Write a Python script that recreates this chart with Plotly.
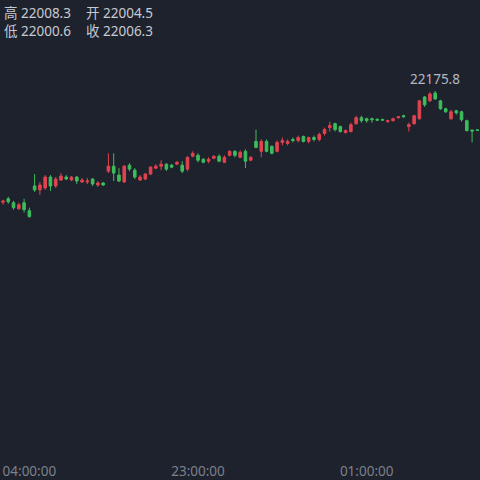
import plotly.graph_objects as go

# 4-minute candles
opens = [22004.5, 22009.8, 22003.7, 21994.5, 22003.7, 21991.5, 22029.6, 22023.5, 22026.5, 22043.3,
         22029.6, 22038.7, 22043.3, 22038.7, 22043.3, 22035.7, 22035.7, 22040.2, 22031.1, 22034.1,
         22052.4, 22060.0, 22046.3, 22035.7, 22061.6, 22053.9, 22038.7, 22040.2, 22047.9, 22057.0,
         22060.0, 22063.1, 22061.6, 22063.1, 22061.6, 22055.5, 22075.3, 22076.8, 22070.7, 22067.7,
         22072.2, 22075.3, 22066.1, 22076.8, 22082.9, 22073.7, 22082.9, 22069.2, 22098.1, 22082.9,
         22098.1, 22090.5, 22082.9, 22096.6, 22095.1, 22101.2, 22099.6, 22105.7, 22098.1, 22104.2,
         22101.2, 22110.3, 22119.4, 22125.5, 22121.0, 22111.8, 22113.3, 22125.5, 22134.7, 22133.1,
         22133.1, 22132.4, 22132.0, 22128.6, 22130.1, 22134.7, 22137.7, 22121.0, 22125.5, 22133.1,
         22166.6, 22160.6, 22172.7, 22160.6, 22148.4, 22133.1, 22145.3, 22143.8, 22130.1, 22115.6,
         22115.9]
highs = [22008.3, 22012.8, 22006.7, 22003.7, 22009.8, 21996.1, 22047.9, 22035.7, 22046.3, 22046.3,
         22043.3, 22049.4, 22046.3, 22044.8, 22044.8, 22041.8, 22041.8, 22041.8, 22037.2, 22035.7,
         22079.8, 22079.8, 22057.0, 22061.6, 22064.6, 22057.0, 22046.3, 22049.4, 22060.0, 22063.1,
         22069.2, 22064.6, 22063.1, 22067.7, 22067.7, 22075.3, 22082.9, 22079.8, 22072.2, 22073.7,
         22076.8, 22078.3, 22076.8, 22084.4, 22084.4, 22084.4, 22085.9, 22075.3, 22116.4, 22101.2,
         22101.2, 22092.0, 22099.6, 22104.2, 22101.2, 22104.2, 22107.2, 22107.2, 22105.7, 22107.2,
         22111.8, 22119.4, 22128.6, 22127.0, 22122.5, 22116.4, 22127.0, 22137.7, 22137.7, 22134.7,
         22134.7, 22133.1, 22133.1, 22131.6, 22134.7, 22136.9, 22139.2, 22127.0, 22139.2, 22162.1,
         22168.2, 22174.3, 22175.8, 22162.1, 22149.9, 22146.8, 22146.8, 22145.3, 22131.6, 22116.4,
         22116.4]
lows = [22000.6, 22002.2, 21993.0, 21993.0, 21988.5, 21980.8, 22020.4, 22015.9, 22023.5, 22022.0,
        22026.5, 22037.2, 22038.7, 22037.2, 22032.6, 22034.1, 22032.6, 22029.6, 22028.1, 22029.6,
        22049.4, 22037.2, 22035.7, 22034.1, 22052.4, 22040.2, 22037.2, 22038.7, 22046.3, 22055.5,
        22053.9, 22052.4, 22057.0, 22061.6, 22049.4, 22052.4, 22073.7, 22066.1, 22064.6, 22064.6,
        22070.7, 22066.1, 22064.6, 22075.3, 22073.7, 22072.2, 22057.0, 22067.7, 22087.4, 22073.7,
        22081.4, 22078.3, 22081.4, 22092.0, 22092.0, 22096.6, 22096.6, 22096.6, 22095.1, 22098.1,
        22098.1, 22107.2, 22113.3, 22113.3, 22111.8, 22110.3, 22111.8, 22124.0, 22127.0, 22127.0,
        22127.0, 22130.1, 22130.1, 22127.0, 22128.6, 22133.1, 22134.7, 22113.3, 22124.0, 22131.6,
        22151.4, 22159.0, 22162.1, 22146.8, 22142.3, 22131.6, 22139.2, 22128.6, 22113.3, 22096.6,
        22114.9]
closes = [22006.3, 22005.2, 21996.1, 22000.6, 21993.0, 21982.4, 22023.5, 22031.1, 22043.3, 22029.6,
          22040.2, 22044.8, 22040.2, 22043.3, 22037.2, 22038.7, 22037.2, 22032.6, 22034.1, 22031.1,
          22060.0, 22049.4, 22037.2, 22060.0, 22055.5, 22043.3, 22043.3, 22047.9, 22058.5, 22060.0,
          22063.1, 22055.5, 22058.5, 22066.1, 22052.4, 22073.7, 22079.8, 22069.2, 22066.1, 22070.7,
          22075.3, 22067.7, 22073.7, 22082.9, 22076.8, 22081.4, 22067.7, 22073.7, 22089.0, 22098.1,
          22082.9, 22079.8, 22096.6, 22099.6, 22098.1, 22099.6, 22104.2, 22098.1, 22104.2, 22101.2,
          22108.8, 22116.4, 22122.5, 22116.4, 22113.3, 22114.9, 22124.0, 22134.7, 22130.1, 22130.1,
          22131.6, 22130.9, 22131.0, 22130.1, 22133.1, 22136.2, 22136.2, 22124.0, 22137.7, 22160.6,
          22154.5, 22171.2, 22163.6, 22148.4, 22143.8, 22143.8, 22142.3, 22131.6, 22114.9, 22114.1,
          22115.2]

tick_pos = [5, 37, 69]
tick_text = ["04:00:00", "23:00:00", "01:00:00"]

idx = list(range(len(opens)))
top = 0  # header candle
peak = highs.index(max(highs))

red = "#e2434f"
green = "#3dbd5b"
bg = "#1e222d"
font = "Noto Sans, Noto Sans CJK SC, sans-serif"

fig = go.Figure(go.Candlestick(
    x=idx, open=opens, high=highs, low=lows, close=closes,
    increasing=dict(line=dict(color=red, width=1), fillcolor=red),
    decreasing=dict(line=dict(color=green, width=1), fillcolor=green),
    whiskerwidth=0, hoverinfo="skip",
))

fig.update_layout(
    width=480, height=480,
    margin=dict(l=0, r=0, t=0, b=17),
    paper_bgcolor=bg, plot_bgcolor=bg,
    showlegend=False,
    font=dict(family=font, size=13, color="#7c808a"),
)
fig.update_xaxes(
    range=[-0.57, 90.5], rangeslider_visible=False,
    showgrid=False, zeroline=False, showline=False,
    tickmode="array", tickvals=tick_pos, ticktext=tick_text,
    ticks="", ticklabelstandoff=3, tickfont=dict(size=13.5, color="#7c808a"),
)
fig.update_yaxes(
    range=[21610.7, 22315.9], showgrid=False, zeroline=False,
    showticklabels=False, showline=False,
)

# OHLC header, two lines per column
hdr = dict(color="#c6cad2", size=13.5, family=font)
left = "高 %.1f<br>低 %.1f" % (highs[top], lows[top])
right = "开 %.1f<br>收 %.1f" % (opens[top], closes[top])
for xx, txt in [(2, left), (84, right)]:
    fig.add_annotation(xref="paper", yref="paper", x=xx / 480, y=1 - 2 / 463, text=txt,
                       showarrow=False, xanchor="left", yanchor="top", align="left", font=hdr)

fig.add_annotation(x=peak, y=highs[peak], text="%.1f" % highs[peak], showarrow=False,
                   yanchor="bottom", yshift=1, font=dict(color="#b4b8c0", size=13.5, family=font))

# page has no margin of its own, so the chart fills the window
fig.write_html("out.html", config={"displayModeBar": False},
               post_script="document.body.style.margin='0';"
               "document.body.style.background='%s';" % bg)
